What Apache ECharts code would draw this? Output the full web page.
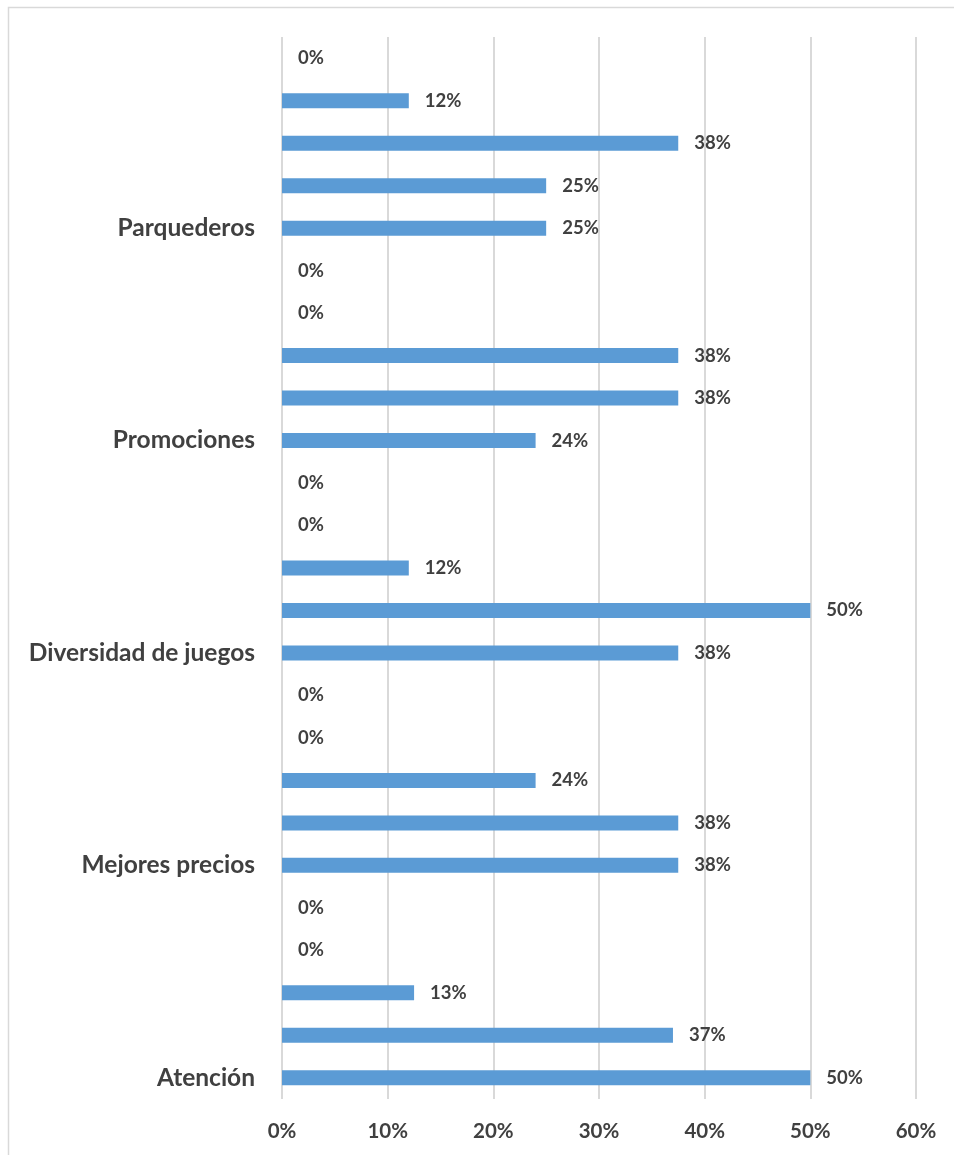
<!DOCTYPE html>
<html>
<head>
<meta charset="utf-8">
<script src="https://cdn.jsdelivr.net/npm/echarts@6/dist/echarts.min.js"></script>
<style>
html,body{margin:0;padding:0;background:#fff;}
#chart{width:954px;height:1155px;}
</style>
</head>
<body>
<div id="chart"></div>
<script>
// Categories listed bottom to top (ECharts category axis starts at bottom)
const categories = [
  'Atención', '', '', '', '',
  'Mejores precios', '', '', '', '',
  'Diversidad de juegos', '', '', '', '',
  'Promociones', '', '', '', '',
  'Parquederos', '', '', '', ''
];
const values = [
  50, 37, 12.5, 0, 0,
  37.5, 37.5, 24, 0, 0,
  37.5, 50, 12, 0, 0,
  24, 37.5, 37.5, 0, 0,
  25, 25, 37.5, 12, 0
];
const xTicks = [0, 10, 20, 30, 40, 50, 60];

const FONT = 'Lato';
const chart = echarts.init(document.getElementById('chart'), null, {renderer: 'canvas'});
chart.setOption({
  animation: false,
  backgroundColor: '#ffffff',
  graphic: [{
    type: 'rect',
    shape: {x: 8.5, y: 7.5, width: 1200, height: 1400},
    style: {fill: 'none', stroke: '#d9d9d9', lineWidth: 1.5},
    silent: true
  }],
  grid: {left: 282, right: 38, top: 37, bottom: 56, containLabel: false},
  xAxis: {
    type: 'value',
    min: xTicks[0],
    max: xTicks[xTicks.length - 1],
    interval: 10,
    axisLine: {show: false},
    axisTick: {show: false},
    splitLine: {show: true, lineStyle: {color: '#d9d9d9', width: 2}},
    axisLabel: {
      formatter: v => v + '%',
      color: '#404040',
      fontFamily: FONT,
      fontWeight: 'bold',
      fontSize: 20.5,
      margin: 22
    }
  },
  yAxis: {
    type: 'category',
    data: categories,
    axisLine: {show: false},
    axisTick: {show: false},
    axisLabel: {
      interval: 0,
      color: '#404040',
      fontFamily: FONT,
      fontWeight: 'bold',
      fontSize: 24.5,
      margin: 27
    }
  },
  series: [{
    type: 'bar',
    data: values,
    barWidth: 15,
    itemStyle: {color: '#5b9bd5'},
    label: {
      show: true,
      position: 'right',
      distance: 16,
      formatter: p => Math.round(p.value) + '%',
      color: '#404040',
      fontFamily: FONT,
      fontWeight: 'bold',
      fontSize: 18.5
    }
  }]
});
</script>
</body>
</html>
